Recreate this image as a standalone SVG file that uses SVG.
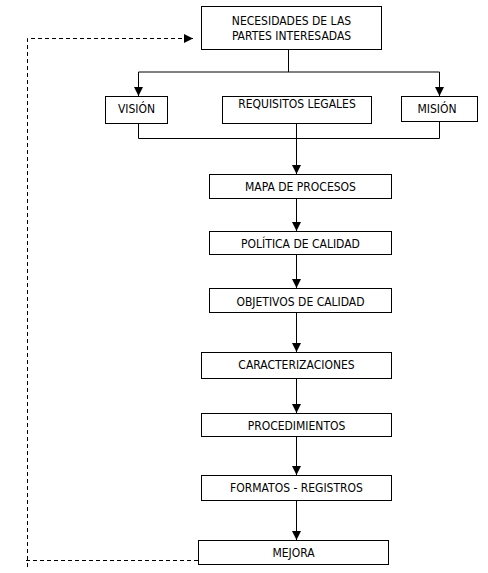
<svg xmlns="http://www.w3.org/2000/svg" width="488" height="573" viewBox="0 0 488 573">
<style>
rect{fill:#fff;stroke:#000;stroke-width:1}
text{font-family:"DejaVu Sans Condensed","DejaVu Sans",sans-serif;font-stretch:condensed;font-size:12px;fill:#000;text-anchor:middle}
.c{fill:none;stroke:#000;stroke-width:1}
.d{fill:none;stroke:#000;stroke-width:1;stroke-dasharray:4,3}
</style>
<defs>
<marker id="ar" markerWidth="10" markerHeight="9" refX="9" refY="4.5" orient="auto" markerUnits="userSpaceOnUse">
<path d="M0,0 L9,4.5 L0,9 z" fill="#000"/>
</marker>
</defs>
<g id="connectors">
<path class="c" d="M288.5,50 V72"/>
<path class="c" d="M138.5,72 H439.5"/>
<path class="c" d="M138.5,72 V96" marker-end="url(#ar)"/>
<path class="c" d="M439.5,72 V96" marker-end="url(#ar)"/>
<path class="c" d="M138.5,123 V138.5 H439.5 V121"/>
<path class="c" d="M296.5,123 V174" marker-end="url(#ar)"/>
<path class="c" d="M296.5,198 V231" marker-end="url(#ar)"/>
<path class="c" d="M296.5,254 V288" marker-end="url(#ar)"/>
<path class="c" d="M296.5,312 V352" marker-end="url(#ar)"/>
<path class="c" d="M296.5,378 V413" marker-end="url(#ar)"/>
<path class="c" d="M296.5,436 V475" marker-end="url(#ar)"/>
<path class="c" d="M296.5,500 V540" marker-end="url(#ar)"/>
<path class="d" d="M198,560.5 H23"/>
<path class="d" d="M27.5,567 V38.5 H193" marker-end="url(#ar)"/>
</g>
<g id="necesidades">
<rect x="201.5" y="6.5" width="180" height="43"/>
<text x="291.5" y="25">NECESIDADES DE LAS</text>
<text x="291.5" y="40">PARTES INTERESADAS</text>
</g>
<g id="vision">
<rect x="105.5" y="96.5" width="62" height="27"/>
<text x="136.5" y="113">VISIÓN</text>
</g>
<g id="requisitos">
<rect x="222.5" y="96.5" width="149" height="27"/>
<text x="297" y="108">REQUISITOS LEGALES</text>
</g>
<g id="mision">
<rect x="401.5" y="96.5" width="76" height="25"/>
<text x="437" y="113">MISIÓN</text>
</g>
<g id="mapa">
<rect x="209.5" y="174.5" width="182" height="24"/>
<text x="300.5" y="191">MAPA DE PROCESOS</text>
</g>
<g id="politica">
<rect x="209.5" y="231.5" width="182" height="23"/>
<text x="300.5" y="248">POLÍTICA DE CALIDAD</text>
</g>
<g id="objetivos">
<rect x="209.5" y="288.5" width="182" height="24"/>
<text x="300.5" y="306">OBJETIVOS DE CALIDAD</text>
</g>
<g id="caracterizaciones">
<rect x="201.5" y="352.5" width="190" height="26"/>
<text x="296.5" y="369">CARACTERIZACIONES</text>
</g>
<g id="procedimientos">
<rect x="201.5" y="413.5" width="190" height="23"/>
<text x="296.5" y="430">PROCEDIMIENTOS</text>
</g>
<g id="formatos">
<rect x="201.5" y="475.5" width="190" height="25"/>
<text x="296.5" y="492">FORMATOS - REGISTROS</text>
</g>
<g id="mejora">
<rect x="198.5" y="540.5" width="190" height="24"/>
<text x="293.5" y="557">MEJORA</text>
</g>
</svg>
